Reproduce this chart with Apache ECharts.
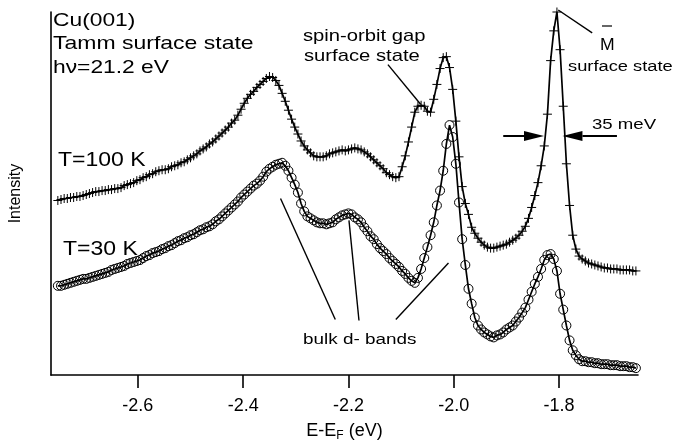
<!DOCTYPE html>
<html>
<head>
<meta charset="utf-8">
<script src="https://cdn.jsdelivr.net/npm/echarts@6/dist/echarts.min.js"></script>
<style>
  html, body { margin: 0; padding: 0; background: #fff; }
  #chart { width: 677px; height: 447px; }
</style>
</head>
<body>
<div id="chart"></div>
<script>
// Cu(001) photoemission spectra (hν = 21.2 eV) at two temperatures.
// Energy channels are equally spaced; intensities are in arbitrary units.
const E_START = -2.752;   // first channel, eV
const E_STEP = 0.006;     // channel spacing, eV

const intensity100K = [
  176,177,178,178,179,179,180,180,181,182,
  183,184,185,185,186,186,187,187,188,188,
  189,191,192,193,194,196,197,199,200,202,
  203,205,206,207,207,208,210,211,212,214,
  215,217,219,221,223,226,228,230,233,235,
  238,241,244,247,250,254,257,262,268,274,
  279,283,286,290,293,296,299,301,300,297,
  292,284,276,267,258,250,243,236,231,227,
  224,221,220,220,220,221,223,224,225,226,
  227,226,227,228,229,228,227,225,223,220,
  217,214,211,208,204,202,200,199,200,210,
  221,235,250,265,271,272,271,266,265,278,
  293,309,320,321,310,288,256,220,190,173,
  162,149,143,138,134,131,129,128,128,129,
  130,131,132,134,136,138,141,145,150,158,
  169,181,194,211,231,263,317,347,366,328,
  271,213,171,141,127,120,117,115,113,112,
  111,110,109,108,108,107,107,107,106,106,
  106,106,105,105
];

const intensity30K = [
  90,90,91,92,93,94,95,96,97,97,
  98,99,100,101,102,103,104,106,107,108,
  109,110,112,113,114,115,116,118,120,121,
  123,124,125,127,128,130,131,133,135,136,
  138,139,141,142,144,146,147,149,150,152,
  155,157,160,163,166,169,172,175,179,182,
  185,188,191,193,196,200,205,208,210,212,
  213,214,211,206,199,192,184,173,165,160,
  158,156,154,153,153,152,153,154,157,159,
  161,162,163,162,159,157,154,149,145,140,
  137,132,128,125,122,118,115,112,109,105,
  102,98,95,93,98,107,118,129,141,154,
  171,186,206,233,252,240,213,174,137,111,
  87,72,58,50,46,43,41,39,38,40,
  41,43,46,48,50,54,58,63,68,76,
  84,92,99,107,116,121,122,117,105,82,
  66,50,35,25,20,16,14,14,13,13,
  12,12,11,11,11,10,10,10,9,9,
  9,8,8,7
];

const xTicks = [-2.6, -2.4, -2.2, -2.0, -1.8];

// Width of the M-bar surface-state peak and where it is marked
const FWHM_MEV = 35;
const FWHM_CENTER = -1.811;
const FWHM_LEVEL = 241;

const energies = intensity100K.map((_, i) => +(E_START + i * E_STEP).toFixed(3));
const pairs = (vals) => vals.map((v, i) => [energies[i], v]);

const FONT = '"Liberation Sans", Arial, Helvetica, sans-serif';
const chart = echarts.init(document.getElementById('chart'), null, { renderer: 'canvas' });

chart.setOption({
  animation: false,
  backgroundColor: '#fff',
  grid: { left: 49, right: 39, top: 12, bottom: 69, containLabel: false },
  xAxis: {
    type: 'value',
    min: -2.765,
    max: -1.65,
    axisLine: { lineStyle: { color: '#000', width: 1.6 } },
    axisTick: { show: true, inside: false, length: 13, customValues: xTicks,
                lineStyle: { color: '#000', width: 1.6 } },
    axisLabel: { customValues: xTicks, formatter: (v) => v.toFixed(1),
                 color: '#000', fontSize: 18, fontFamily: FONT, margin: 22 },
    splitLine: { show: false },
    name: 'E-E{sub|F} (eV)',
    nameLocation: 'middle',
    nameGap: 44,
    nameTextStyle: {
      color: '#000', fontSize: 18, fontFamily: FONT, lineHeight: 22, verticalAlign: 'bottom',
      rich: { sub: { fontSize: 12, fontFamily: FONT, color: '#000', lineHeight: 10, verticalAlign: 'bottom' } }
    }
  },
  yAxis: {
    type: 'value',
    min: 0,
    max: 366,
    axisLine: { show: true, lineStyle: { color: '#000', width: 1.6 } },
    axisTick: { show: false },
    axisLabel: { show: false },
    splitLine: { show: false },
    name: 'Intensity',
    nameLocation: 'middle',
    nameRotate: 90,
    nameGap: 27,
    nameTextStyle: { color: '#000', fontSize: 16, fontFamily: FONT }
  },
  series: [
    {
      name: 'T=100 K',
      type: 'line',
      data: pairs(intensity100K),
      symbol: 'path://M0,5L10,5M5,0L5,10',
      symbolSize: 9,
      showSymbol: true,
      clip: false,
      smooth: false,
      lineStyle: { color: '#000', width: 1.7 },
      itemStyle: { color: 'transparent', borderColor: '#000', borderWidth: 1 }
    },
    {
      name: 'T=30 K',
      type: 'line',
      data: pairs(intensity30K),
      symbol: 'circle',
      symbolSize: 9,
      showSymbol: true,
      clip: false,
      smooth: false,
      lineStyle: { color: '#000', width: 1.7 },
      itemStyle: { color: 'transparent', borderColor: '#000', borderWidth: 1 }
    }
  ]
});

// Annotations: leader lines and the FWHM arrows sit in data coordinates.
const P = (e, v) => chart.convertToPixel({ gridIndex: 0 }, [e, v]);

function text(s, x, y, size, sx) {
  return { type: 'text', x: x, y: y, scaleX: sx, scaleY: 1, silent: true,
           style: { text: s, fontSize: size, fontFamily: FONT, fill: '#000',
                    align: 'left', verticalAlign: 'middle' } };
}
function seg(a, b, w) {
  return { type: 'line', silent: true,
           shape: { x1: a[0], y1: a[1], x2: b[0], y2: b[1] },
           style: { stroke: '#000', lineWidth: w || 1.4 } };
}
function arrow(tail, tip) {
  const dir = Math.sign(tip[0] - tail[0]);
  const headLen = 20, half = 5;
  const base = tip[0] - dir * headLen;
  return [
    seg(tail, [base, tip[1]], 2),
    { type: 'polygon', silent: true,
      shape: { points: [[tip[0], tip[1]], [base, tip[1] - half], [base, tip[1] + half]] },
      style: { fill: '#000' } }
  ];
}

const halfWidth = FWHM_MEV / 1000 / 2;
const mBarAnchor = P(-1.737, 345);

const elements = [
  text('Cu(001)', 53, 21, 19, 1.2),
  text('Tamm surface state', 53, 44, 19, 1.21),
  text('hν=21.2 eV', 53, 68, 19, 1.2),
  text('T=100 K', 58, 160, 20, 1.15),
  text('T=30 K', 63, 249, 20, 1.15),
  text('spin-orbit gap', 303, 36, 17, 1.19),
  text('surface state', 304, 56, 17, 1.19),
  text('M', 600, 46, 16, 1.1),
  seg([602, 26], [612, 26], 1.2),
  text('surface state', 568, 67, 15.5, 1.18),
  text('35 meV', 592, 125, 15.5, 1.2),
  text('bulk d- bands', 303, 340, 15.5, 1.22),
  // spin-orbit gap surface state
  seg(P(-2.125, 313), P(-2.063, 273)),
  // M-bar surface state
  seg(P(-1.8015, 368), mBarAnchor),
  // bulk d-bands
  seg(P(-2.329, 178), P(-2.225, 56)),
  seg(P(-2.199, 156), P(-2.180, 55)),
  seg(P(-2.110, 56), P(-2.010, 113))
].concat(
  arrow(P(-1.906, FWHM_LEVEL), P(FWHM_CENTER - halfWidth, FWHM_LEVEL)),
  arrow(P(-1.690, FWHM_LEVEL), P(FWHM_CENTER + halfWidth, FWHM_LEVEL))
);

chart.setOption({ graphic: { elements: elements } });
</script>
</body>
</html>
